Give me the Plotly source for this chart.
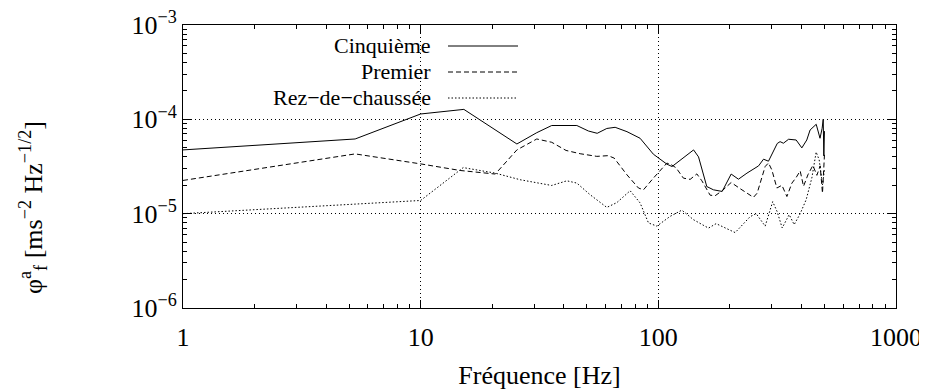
import plotly.graph_objects as go

# ---- data ----
freq_cinq = [1, 5.3, 10, 15.2, 25.4, 30.8, 35.6, 45.4, 50.8, 55.3, 60.7, 65.8, 73.8, 83.8,
             95.3, 108.6, 114.2, 136.2, 140.7, 147.6, 159.9, 170.5, 185.6, 202.5, 217.3,
             236, 264.1, 277.1, 290.7, 316.5, 325.3, 335.9, 353.2, 380.1, 401.6, 421.3,
             435.1, 461.6, 478.9, 488.9, 494, 497, 500]
val_cinq = [4.74e-5, 6.19e-5, 1.14e-4, 1.275e-4, 5.48e-5, 7.22e-5, 8.6e-5, 8.6e-5, 7.52e-5,
            7.11e-5, 8.0e-5, 8.23e-5, 7.4e-5, 6.3e-5, 4.27e-5, 3.35e-5, 3.16e-5, 4.48e-5,
            4.74e-5, 4.0e-5, 1.94e-5, 1.79e-5, 1.72e-5, 2.63e-5, 2.32e-5, 2.69e-5, 3.21e-5,
            3.78e-5, 3.6e-5, 5.55e-5, 5.8e-5, 5.58e-5, 6.15e-5, 6.04e-5, 4.98e-5, 6.04e-5,
            7.71e-5, 8.86e-5, 6.3e-5, 8.03e-5, 1.0e-4, 4.1e-5, 7.5e-5]

freq_prem = [1, 5.3, 10, 14.65, 20.6, 25.4, 30.8, 35.6, 40.9, 46.9, 55.1, 61.5, 65.2, 73.8,
             82.5, 86.6, 95.3, 108.6, 112.1, 118.8, 127.5, 136.1, 145.2, 152.5, 165.2, 173.4,
             185.6, 202.5, 221, 251.3, 260.5, 281.5, 290.7, 300.4, 315.3, 331.1, 347.5, 364.8,
             380.2, 395.2, 408.2, 425.9, 446.9, 464.6, 479.7, 490.5, 500]
val_prem = [2.25e-5, 4.3e-5, 3.37e-5, 2.87e-5, 2.63e-5, 4.74e-5, 6.19e-5, 5.71e-5, 4.68e-5,
            4.32e-5, 4.05e-5, 4.12e-5, 3.88e-5, 2.58e-5, 1.87e-5, 1.79e-5, 2.38e-5, 3.43e-5,
            3.37e-5, 3.06e-5, 2.38e-5, 2.31e-5, 2.64e-5, 2.23e-5, 1.57e-5, 1.55e-5, 1.75e-5,
            2.14e-5, 1.84e-5, 1.49e-5, 1.65e-5, 3.16e-5, 3.45e-5, 2.91e-5, 1.87e-5, 2.0e-5,
            1.52e-5, 2.11e-5, 2.42e-5, 2.84e-5, 1.95e-5, 2.58e-5, 3.25e-5, 2.55e-5, 3.21e-5,
            1.65e-5, 4.2e-5]

freq_rez = [1, 5.3, 10, 15.1, 20.6, 26.2, 35.6, 41.2, 45.4, 51.6, 60.7, 66.9, 76.1, 83.8,
            90.9, 98.6, 112.1, 125.6, 140.5, 162.5, 175.1, 210.5, 243.4, 258, 281.5, 302.8,
            316.2, 332, 355.3, 372.8, 395.2, 418.9, 442.6, 461.4, 475.1, 490.5, 500]
val_rez = [1.0e-5, 1.275e-5, 1.38e-5, 3.08e-5, 2.69e-5, 2.29e-5, 1.99e-5, 2.23e-5, 2.11e-5,
           1.59e-5, 1.165e-5, 1.31e-5, 1.75e-5, 1.3e-5, 7.97e-6, 7.38e-6, 9.36e-6, 1.09e-5,
           8.64e-6, 7.03e-6, 7.84e-6, 6.3e-6, 9.3e-6, 1.0e-5, 7.38e-6, 1.34e-5, 1.05e-5,
           7.06e-6, 9.76e-6, 7.65e-6, 1.0e-5, 1.41e-5, 2.4e-5, 4.5e-5, 3.72e-5, 2.02e-5, 2.91e-5]

series_names = ["Cinquième", "Premier", "Rez\u2212de\u2212chaussée"]
series_dash = ["solid", "5px,3px", "1.5px,2px"]

x_tickvals = [1, 10, 100, 1000]
x_ticktext = ["1", "10", "100", "1000"]
y_tickvals = [1e-6, 1e-5, 1e-4, 1e-3]
y_ticktext = ["10<sup>\u22126</sup>", "10<sup>\u22125</sup>", "10<sup>\u22124</sup>", "10<sup>\u22123</sup>"]

FONT = "Liberation Serif"
FS = 26
FS_KEY = 22

# page is 927x391; the html body has an 8px margin, so the figure starts 8px in
OFF = 8
W, H = 927 - OFF, 391 - OFF
# plot area in page pixels: left 183, right 896, top 25, bottom 308
L, T = 183 - OFF, 25 - OFF
R, B = W - (896 - OFF), H - (308 - OFF)
pw, ph = W - L - R, H - T - B


def px(xp):
    return (xp - OFF - L) / pw


def py(yp):
    return (H - B - (yp - OFF)) / ph


fig = go.Figure()
for fx, fy, name, dash in zip([freq_cinq, freq_prem, freq_rez],
                              [val_cinq, val_prem, val_rez],
                              series_names, series_dash):
    fig.add_trace(go.Scatter(x=fx, y=fy, mode="lines", name=name,
                             line=dict(color="black", width=1, dash=dash),
                             showlegend=False))

fig.update_layout(
    width=W, height=H,
    margin=dict(l=L, r=R, t=T, b=B, pad=0, autoexpand=False),
    paper_bgcolor="white", plot_bgcolor="white",
    font=dict(family=FONT, size=FS, color="black"),
)
fig.update_xaxes(
    type="log", range=[0, 3], tickvals=x_tickvals, ticktext=x_ticktext,
    automargin=False, ticklabeloverflow="allow",
    showline=True, linecolor="black", linewidth=1, mirror="allticks",
    ticks="inside", ticklen=8, tickcolor="black", tickwidth=1,
    ticklabelstandoff=6,
    showgrid=True, gridcolor="black", gridwidth=1, griddash="1px,3px",
    zeroline=False, tickfont=dict(family=FONT, size=FS),
    minor=dict(ticks="inside", ticklen=4, tickcolor="black", dtick="D1", showgrid=False),
    title=dict(text="Fréquence [Hz]", font=dict(family=FONT, size=FS), standoff=14),
)
fig.update_yaxes(
    type="log", range=[-6, -3], tickvals=y_tickvals, ticktext=y_ticktext,
    automargin=False, ticklabeloverflow="allow",
    showline=True, linecolor="black", linewidth=1, mirror="allticks",
    ticks="inside", ticklen=8, tickcolor="black", tickwidth=1,
    showgrid=True, gridcolor="black", gridwidth=1, griddash="1px,3px",
    zeroline=False, tickfont=dict(family=FONT, size=FS),
    minor=dict(ticks="inside", ticklen=4, tickcolor="black", dtick="D1", showgrid=False),
)

# y-axis title
fig.add_annotation(
    text="\u03c6<sup>a</sup><sub>f</sub> [ms<sup>\u22122</sup> Hz<sup>\u22121/2</sup>]",
    xref="paper", yref="paper", x=px(33), y=py(208),
    showarrow=False, textangle=-90, font=dict(family=FONT, size=FS),
    xanchor="center", yanchor="middle",
)

# gnuplot-style key: right-aligned text followed by line sample
key_y = [46, 72, 98]
for name, dash, ky in zip(series_names, series_dash, key_y):
    fig.add_annotation(text=name, xref="paper", yref="paper",
                       x=px(433), y=py(ky), xanchor="right", yanchor="middle",
                       showarrow=False, font=dict(family=FONT, size=FS_KEY))
    fig.add_shape(type="line", xref="paper", yref="paper",
                  x0=px(448), x1=px(518), y0=py(ky), y1=py(ky),
                  line=dict(color="black", width=1, dash=dash))

fig.write_html("out.html")
